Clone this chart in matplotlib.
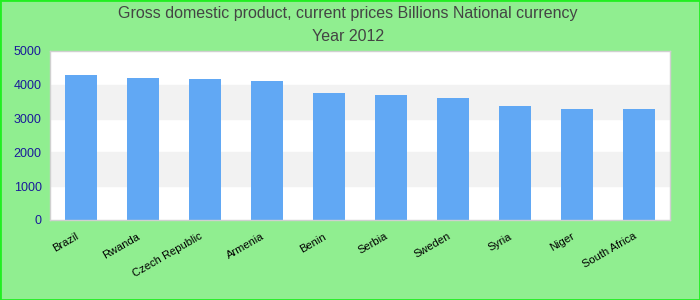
import matplotlib.pyplot as plt
from matplotlib.patches import Rectangle
from matplotlib.transforms import ScaledTranslation
import numpy as np

countries = ["Brazil", "Rwanda", "Czech Republic", "Armenia", "Benin",
             "Serbia", "Sweden", "Syria", "Niger", "South Africa"]
gdp = [4290, 4200, 4170, 4110, 3760, 3700, 3610, 3370, 3280, 3280]
y_ticks = [0, 1000, 2000, 3000, 4000, 5000]

plt.rcParams['font.family'] = ['Liberation Sans', 'DejaVu Sans']

fig = plt.figure(figsize=(7, 3), dpi=100, facecolor="#90ee90")
fig.patches.append(Rectangle((0, 0), 1, 1, transform=fig.transFigure,
                             fill=False, edgecolor="#22ee22", linewidth=2))

ax = fig.add_axes([50 / 700, 80 / 300, 620 / 700, 169 / 300])
ax.set_facecolor("white")

# alternating bands
for i in range(len(y_ticks) - 1):
    if i % 2 == 1:
        ax.axhspan(y_ticks[i], y_ticks[i + 1], color="#f2f2f2", zorder=0)

x = np.arange(len(countries))
ax.bar(x, gdp, width=0.52, color="#61a8f4", zorder=2)

ax.set_xlim(-0.5, len(countries) - 0.5)
ax.set_ylim(0, 5000)
ax.set_yticks(y_ticks)
ax.set_yticklabels([str(v) for v in y_ticks], color="#1a1a9a", fontsize=9)
ax.set_xticks(x)
ax.set_xticklabels(countries, rotation=30, ha="right", rotation_mode="anchor",
                   fontsize=8, color="black")
ax.tick_params(axis="both", length=0, pad=6)
shift = ScaledTranslation(-6 / 100, -3 / 100, fig.dpi_scale_trans)
for lbl in ax.get_xticklabels():
    lbl.set_transform(lbl.get_transform() + shift)
for s in ax.spines.values():
    s.set_color("#d0d0d0")
    s.set_linewidth(1)

fig.text(0.497, 0.955, "Gross domestic product, current prices Billions National currency",
         ha="center", va="center", fontsize=11.5, color="#444444")
fig.text(0.497, 0.877, "Year 2012", ha="center", va="center",
         fontsize=11.5, color="#444444")

fig.savefig("out.png", dpi=100, facecolor=fig.get_facecolor())
